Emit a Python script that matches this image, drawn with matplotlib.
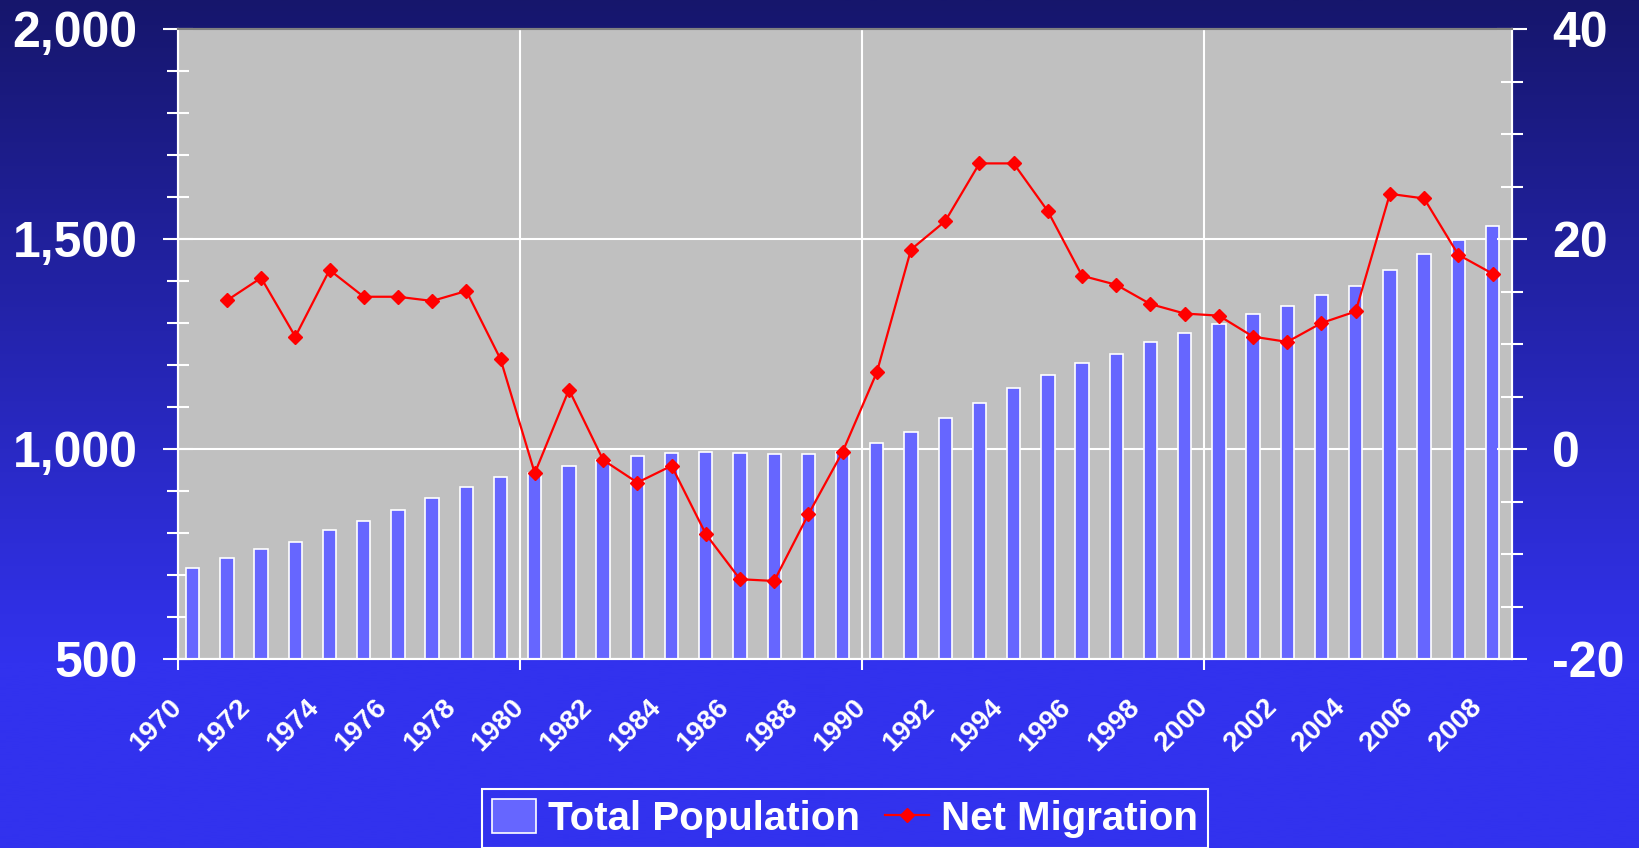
import matplotlib
matplotlib.use('Agg')
import matplotlib.pyplot as plt
import numpy as np
from matplotlib.ticker import MultipleLocator, FuncFormatter, NullFormatter

# data
years = np.arange(1970, 2009)
population = [716, 740, 761, 779, 806, 829, 855, 884, 910, 933,
              944, 960, 974, 984, 991, 992, 991, 988, 988, 994,
              1014, 1041, 1073, 1109, 1145, 1177, 1205, 1227, 1254, 1276,
              1298, 1321, 1340, 1366, 1388, 1426, 1465, 1497, 1530]
migration_years = np.arange(1971, 2009)
net_migration = [14.15, 16.3, 10.7, 17.05, 14.5, 14.5, 14.1, 15.05, 8.55,
                 -2.3, 5.65, -1.05, -3.2, -1.6, -8.1, -12.4, -12.57, -6.22, -0.27,
                 7.3, 19.0, 21.7, 27.2, 27.2, 22.65, 16.5, 15.64, 13.8, 12.9,
                 12.7, 10.7, 10.2, 12.0, 13.1, 24.3, 23.86, 18.5, 16.7]
label_years = list(range(1970, 2009, 2))
tick_labels = [str(y) for y in label_years]

plt.rcParams['font.family'] = ['Liberation Sans', 'DejaVu Sans']
plt.rcParams['font.weight'] = 'bold'
plt.rcParams['axes.unicode_minus'] = False

W, H = 1639, 848
fig = plt.figure(figsize=(W / 100, H / 100), dpi=100)

# background gradient, dark navy at top to bright blue lower down
bg = fig.add_axes([0, 0, 1, 1], zorder=-10)
t = np.clip(np.linspace(0, 1, 400) / 0.78, 0, 1)[:, None]
top_col = np.array([22, 22, 108]) / 255
bot_col = np.array([50, 50, 238]) / 255
grad = top_col + (bot_col - top_col) * t
bg.imshow(grad[:, None, :], aspect='auto', extent=[0, 1, 0, 1])
bg.axis('off')

ax = fig.add_axes([178 / W, 1 - 659 / H, (1512 - 178) / W, (659 - 29) / H])
ax.set_facecolor('#C0C0C0')
bars = ax.bar(years + 0.43, population, width=0.39, color='#6666FF',
              edgecolor='white', linewidth=1.2, label='Total Population', zorder=2)
ax.set_xlim(1970, 2009)
ax.set_ylim(500, 2000)

ax.yaxis.set_major_locator(MultipleLocator(500))
ax.yaxis.set_minor_locator(MultipleLocator(100))
ax.yaxis.set_major_formatter(FuncFormatter(lambda v, p: f'{v:,.0f}'))
ax.tick_params(axis='y', which='major', direction='inout', length=22, width=1.5,
               color='white', labelcolor='white', labelsize=36, pad=18)
ax.tick_params(axis='y', which='minor', direction='inout', length=16, width=1.5,
               color='white')

ax.xaxis.set_major_locator(MultipleLocator(10))
ax.xaxis.set_major_formatter(NullFormatter())
ax.xaxis.remove_overlapping_locs = False
ax.set_xticks(label_years, minor=True)
ax.set_xticklabels(tick_labels, minor=True, rotation=45, ha='right', va='center',
                   rotation_mode='anchor', color='white', fontsize=20)
ax.tick_params(axis='x', which='major', direction='inout', length=16, width=1.5, color='white')
ax.tick_params(axis='x', which='minor', length=0, pad=32)

ax.grid(True, which='major', color='white', linewidth=1.5, zorder=1)
ax.set_axisbelow(True)

ax2 = ax.twinx()
line, = ax2.plot(migration_years + 0.43, net_migration, color='red', linewidth=1.6,
                 marker='D', markersize=7, label='Net Migration')
ax2.set_ylim(-20, 40)
ax2.yaxis.set_major_locator(MultipleLocator(20))
ax2.yaxis.set_minor_locator(MultipleLocator(5))
ax2.tick_params(axis='y', which='major', direction='inout', length=22, width=1.5,
                color='white', labelcolor='white', labelsize=36, pad=18)
ax2.tick_params(axis='y', which='minor', direction='inout', length=16, width=1.5,
                color='white')

for a in (ax, ax2):
    for side in ('left', 'right', 'bottom'):
        a.spines[side].set_color('white')
        a.spines[side].set_linewidth(1.5)
    a.spines['top'].set_color('#808080')
    a.spines['top'].set_linewidth(1.5)

leg = fig.legend(handles=[bars, line], loc='lower center', bbox_to_anchor=(0.5156, 0.0),
                 ncol=2, frameon=True, fancybox=False, facecolor='none', edgecolor='white',
                 framealpha=1, handlelength=1.1, handleheight=0.9, handletextpad=0.3,
                 columnspacing=0.6, borderpad=0.25, borderaxespad=0.0, labelcolor='white',
                 prop={'weight': 'bold', 'size': 29})
leg.get_frame().set_linewidth(1.5)

fig.savefig('out.png', dpi=100)
